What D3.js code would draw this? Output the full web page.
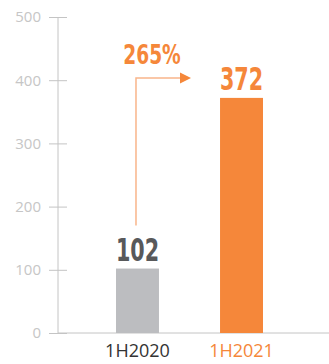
<!DOCTYPE html>
<meta charset="utf-8">
<title>1H2020 vs 1H2021</title>
<style>
  body { margin: 0; background: #fff; }
  svg { display: block; }
  .tick text { font-family: "Open Sans", sans-serif; }
  .val { font-family: "DejaVu Sans Condensed", "DejaVu Sans", sans-serif; font-weight: bold; }
</style>
<svg id="chart" width="329" height="364"></svg>
<script src="https://cdn.jsdelivr.net/npm/d3@7/dist/d3.min.js"></script>
<script>
// data
var periods = ["1H2020", "1H2021"];
var values = [102, 372];
var yTicks = [0, 100, 200, 300, 400, 500];
var growthLabel = "265%";

var gray = "#bcbdc0"
  , orange = "#f5873a"
  , axisGray = "#c4c4c4";

// the original uses a very narrow bold face, squeeze glyphs to match
function narrowWidth(s, size) {
  var w = 0;
  for (var i = 0; i < s.length; i++) w += s[i] == "%" ? 0.78 : 0.45;
  return w * size;
}

var svg = d3.select("#chart");

var y = d3.scaleLinear()
    .domain([0, 500])
    .range([333, 17]);

var x = d3.scaleBand()
    .domain(periods)
    .range([64, 315])
    .paddingInner(0.587)
    .paddingOuter(0.5);

// y axis
var yAxis = d3.axisLeft(y)
    .tickValues(yTicks)
    .tickSize(9)
    .tickPadding(8);

var gy = svg.append("g")
    .attr("transform", "translate(58,0)")
    .call(yAxis);
gy.select(".domain").remove();
gy.selectAll(".tick line")
    .attr("x2", -9).attr("x1", 9)
    .attr("stroke", axisGray);
gy.selectAll(".tick text")
    .attr("fill", "#c6c6c6")
    .style("font-size", "15px");
svg.append("line")
    .attr("x1", 58).attr("x2", 58)
    .attr("y1", y(500)).attr("y2", y(0))
    .attr("stroke", axisGray);
// baseline
svg.append("line")
    .attr("x1", 58).attr("x2", 329)
    .attr("y1", y(0)).attr("y2", y(0))
    .attr("stroke", axisGray);

// bars
svg.selectAll("rect.bar")
  .data(values)
  .enter().append("rect")
    .attr("class", "bar")
    .attr("x", function(d, i) { return x(periods[i]); })
    .attr("y", function(d) { return y(d); })
    .attr("width", x.bandwidth())
    .attr("height", function(d) { return y(0) - y(d); })
    .attr("fill", function(d, i) { return i == 0 ? gray : orange; });

// value labels
svg.selectAll("text.val")
  .data(values)
  .enter().append("text")
    .attr("class", "val")
    .attr("x", function(d, i) { return x(periods[i]) + x.bandwidth() / 2; })
    .attr("y", function(d) { return y(d) - 7.5; })
    .attr("text-anchor", "middle")
    .attr("textLength", function(d) { return narrowWidth(String(d), 32); })
    .attr("lengthAdjust", "spacingAndGlyphs")
    .style("font-size", "32px")
    .attr("fill", function(d, i) { return i == 0 ? "#58595b" : orange; })
    .text(function(d) { return d; });

// category labels
svg.selectAll("text.cat")
  .data(periods)
  .enter().append("text")
    .attr("class", "cat")
    .attr("x", function(d) { return x(d) + x.bandwidth() / 2; })
    .attr("y", 357)
    .attr("text-anchor", "middle")
    .style("font-family", "'Open Sans', sans-serif")
    .style("font-size", "18px")
    .attr("fill", function(d, i) { return i == 0 ? "#333333" : orange; })
    .text(function(d) { return d; });

// growth arrow
var arrowColor = "#f9b58a";
var ax = x(periods[0]) + x.bandwidth() / 2 - 1.5
  , ay = 78
  , aEnd = x(periods[1]) - 29;
svg.append("path")
    .attr("d", "M" + ax + "," + (y(values[0]) - 43) + "V" + ay + "H" + (aEnd - 10))
    .attr("fill", "none")
    .attr("stroke", arrowColor)
    .attr("stroke-width", 1.5);
svg.append("path")
    .attr("d", "M" + (aEnd - 11) + "," + (ay - 5.5) + "L" + aEnd + "," + ay + "L" + (aEnd - 11) + "," + (ay + 5.5) + "Z")
    .attr("fill", orange);
svg.append("text")
    .attr("class", "val")
    .attr("x", 152)
    .attr("y", 64)
    .attr("text-anchor", "middle")
    .attr("textLength", narrowWidth(growthLabel, 27))
    .attr("lengthAdjust", "spacingAndGlyphs")
    .style("font-size", "27px")
    .attr("fill", orange)
    .text(growthLabel);
</script>
